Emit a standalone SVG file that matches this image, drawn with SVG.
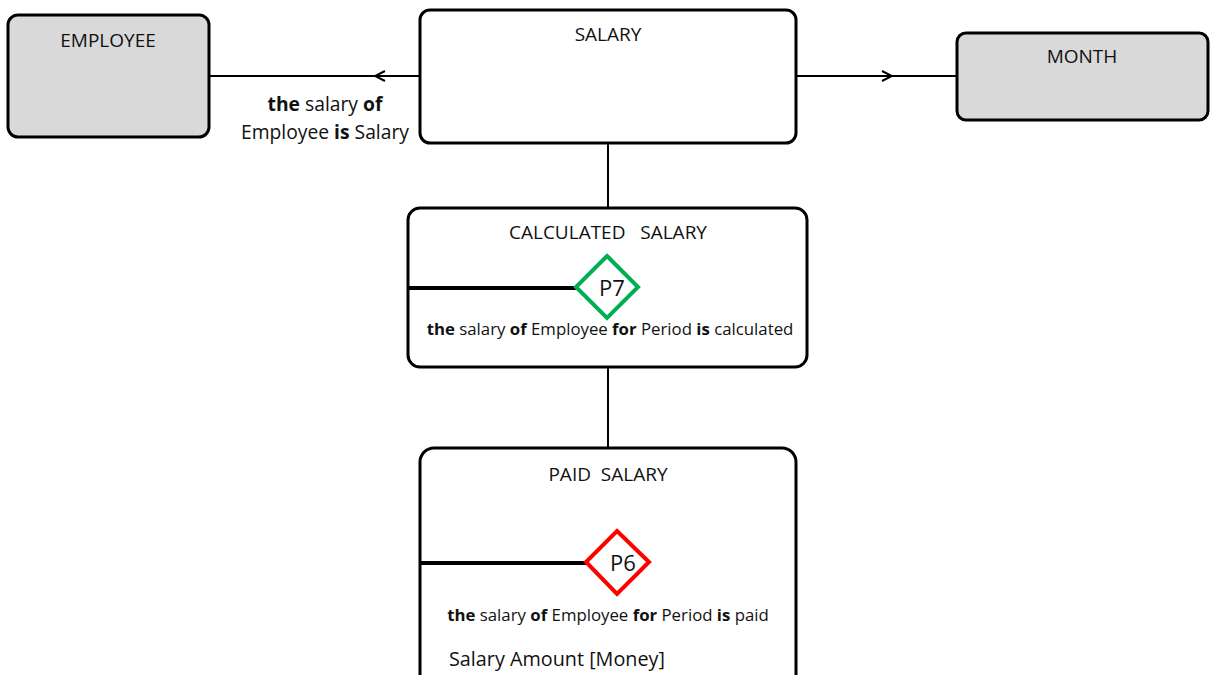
<svg xmlns="http://www.w3.org/2000/svg" width="1210" height="675" viewBox="0 0 1210 675">
  <style>
    .box { stroke: #000; stroke-width: 3; }
    .ref { fill: #d9d9d9; }
    .ent { fill: #fff; }
    .title { font-family: "Open Sans", "Liberation Sans", sans-serif; font-size: 19px; fill: #111; text-anchor: middle; }
    .attr { font-family: "Open Sans", "Liberation Sans", sans-serif; font-size: 19.8px; fill: #111; }
    .lbl { font-family: "Open Sans", "Liberation Sans", sans-serif; font-size: 19.3px; fill: #111; }
    .rule { font-family: "Open Sans", "Liberation Sans", sans-serif; font-size: 16.8px; fill: #111; text-anchor: middle; }
    .b { font-weight: bold; }
    .link { stroke: #000; stroke-width: 2; fill: none; }
    .bar { stroke: #000; stroke-width: 4; }
    .pid { font-family: "Open Sans", "Liberation Sans", sans-serif; font-size: 22px; fill: #111; text-anchor: middle; }
  </style>
  <defs>
    <marker id="chev" viewBox="0 0 12 12" refX="6" refY="6" markerWidth="12" markerHeight="12" markerUnits="userSpaceOnUse" orient="auto">
      <path d="M1,1 L11,6 L1,11" fill="none" stroke="#000" stroke-width="2"/>
    </marker>
  </defs>

  <g id="connectors">
    <path class="link" d="M420,76 L380,76" marker-end="url(#chev)"/>
    <path class="link" d="M380,76 L209,76"/>
    <path class="link" d="M796,76 L887,76" marker-end="url(#chev)"/>
    <path class="link" d="M887,76 L957,76"/>
    <path class="link" d="M608,143 L608,208"/>
    <path class="link" d="M608,367 L608,448"/>
    <text class="lbl" x="325" y="111" text-anchor="middle"><tspan class="b">the</tspan> salary <tspan class="b">of</tspan></text>
    <text class="lbl" x="409" y="139" text-anchor="end">Employee <tspan class="b">is</tspan> Salary</text>
  </g>

  <g id="employee">
    <rect class="box ref" x="8" y="15" width="201" height="122" rx="10"/>
    <text class="title" x="108" y="47">EMPLOYEE</text>
  </g>

  <g id="salary">
    <rect class="box ent" x="420" y="10" width="376" height="133" rx="10"/>
    <text class="title" x="608" y="41">SALARY</text>
  </g>

  <g id="month">
    <rect class="box ref" x="957" y="33" width="251" height="87" rx="9"/>
    <text class="title" x="1082" y="63">MONTH</text>
  </g>

  <g id="calculated-salary">
    <rect class="box ent" x="408" y="208" width="399" height="159" rx="12"/>
    <text class="title" x="608" y="239" xml:space="preserve">CALCULATED   SALARY</text>
    <line class="bar" x1="408" y1="288" x2="576" y2="288"/>
    <polygon points="607,256 638,287 607,318 576,287" fill="#fff" stroke="#00b050" stroke-width="4"/>
    <text class="pid" x="612" y="296">P7</text>
    <text class="rule" x="610" y="335"><tspan class="b">the</tspan> salary <tspan class="b">of</tspan> Employee <tspan class="b">for</tspan> Period <tspan class="b">is</tspan> calculated</text>
  </g>

  <g id="paid-salary">
    <rect class="box ent" x="420" y="448" width="376" height="240" rx="14"/>
    <text class="title" x="608" y="481" xml:space="preserve">PAID  SALARY</text>
    <line class="bar" x1="420" y1="563" x2="586" y2="563"/>
    <polygon points="617,531 649,562 617,594 586,562" fill="#fff" stroke="#ff0000" stroke-width="4"/>
    <text class="pid" x="623" y="571">P6</text>
    <text class="rule" x="608" y="621"><tspan class="b">the</tspan> salary <tspan class="b">of</tspan> Employee <tspan class="b">for</tspan> Period <tspan class="b">is</tspan> paid</text>
    <text class="attr" x="449" y="666">Salary Amount [Money]</text>
  </g>
</svg>
